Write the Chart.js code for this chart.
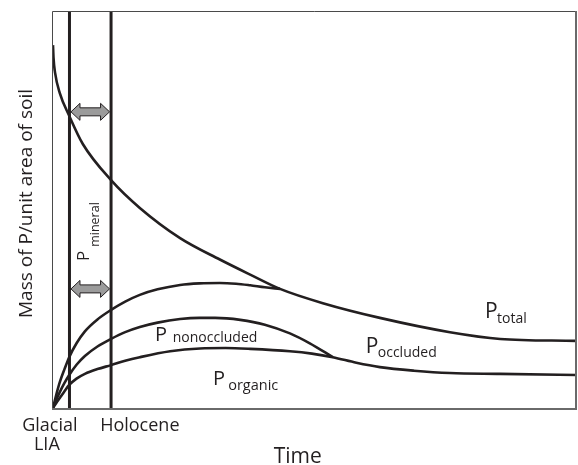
<!DOCTYPE html>
<html><head><meta charset="utf-8">
<script src="https://cdn.jsdelivr.net/npm/chart.js@4"></script>
<style>html,body{margin:0;padding:0;background:#fff}canvas{display:block}</style>
</head><body>
<canvas id="c" width="578" height="465"></canvas>
<script>
// ---- data (time and mass in arbitrary units, 0-100) ----
const timeTotal = [0, 0.1, 0.4, 1.3, 3.1, 5.7, 11.1, 16.6, 24.3, 31.9, 37.7, 43.4, 51.6, 62.5, 75.9, 85.5, 100];
const massTotal = [91.4, 88.2, 84.4, 79.3, 73.6, 66.5, 57.4, 50.4, 42.8, 37.4, 33.6, 30.0, 26.4, 22.7, 19.1, 17.4, 16.9];

const timeOccluded = [0, 0.6, 1.3, 2.2, 3.1, 4.5, 6.1, 8.5, 11.1, 13.8, 16.6, 20.0, 24.3, 28.0, 31.9, 35.0, 37.7, 40.5, 43.4];
const massOccluded = [0, 3.2, 6.5, 9.8, 12.8, 16.3, 19.3, 22.3, 24.7, 26.8, 28.5, 29.9, 31.0, 31.4, 31.5, 31.3, 30.9, 30.4, 30.0];

const timeNonoccluded = [0, 0.6, 1.3, 2.2, 3.1, 4.5, 6.1, 8.5, 11.1, 13.8, 16.6, 20.0, 24.3, 28.0, 31.0, 35.8, 40.5, 45.3, 49.1, 53.5];
const massNonoccluded = [0, 2.0, 4.0, 6.3, 8.3, 10.9, 13.1, 15.5, 17.4, 19.1, 20.4, 21.5, 22.4, 22.7, 22.7, 22.2, 21.0, 18.8, 16.3, 12.8];

const timeOrganic = [0, 0.6, 1.3, 2.2, 3.1, 4.5, 6.1, 8.5, 11.1, 13.8, 16.6, 22.4, 28.1, 33.0, 37.7, 45.3, 49.5, 53.5, 58.0, 62.5, 69.0, 75.9, 85.5, 100];
const massOrganic = [0, 1.2, 2.5, 4.2, 5.8, 7.4, 8.6, 9.8, 10.8, 11.9, 12.8, 14.3, 15.0, 15.1, 14.9, 14.3, 13.7, 12.8, 11.4, 10.3, 9.4, 8.8, 8.6, 8.3];

const periodBoundaries = [3.15, 11.1];     // LIA / Holocene lines
const arrowLevels = [74.6, 30.0];          // mineral-P double arrows
const xTickLabels = [['Glacial', 'LIA'], ['Holocene']];
const xTickValues = [-0.6, 16.6];
const xTitle = 'Time';
const yTitle = 'Mass of P/unit area of soil';

const ink = '#231f20';
const FONT = '"Open Sans", "Noto Sans", sans-serif';

function pts(xs, ys) { return xs.map((v, i) => ({ x: v, y: ys[i] })); }
function curve(xs, ys) {
  return { data: pts(xs, ys), borderColor: ink, borderWidth: 2.6, pointRadius: 0,
           cubicInterpolationMode: 'monotone', fill: false };
}
function vline(v) {
  return { data: [{ x: v, y: 0 }, { x: v, y: 100 }], borderColor: ink, borderWidth: 3,
           pointRadius: 0, tension: 0, fill: false };
}

// in-plot labels: [text, time, mass, size]
const plotLabels = [
  ['P', 82.6, 22.7, 21], ['total', 84.9, 21.4, 14],
  ['P', 59.8, 13.9, 21], ['occluded', 62.1, 12.8, 14],
  ['P', 19.5, 16.9, 20], ['nonoccluded', 22.9, 16.6, 14],
  ['P', 30.6, 5.8, 20], ['organic', 33.5, 4.5, 14.5]
];
// rotated label: [text, time, mass, size]
const mineralLabels = [['P', 6.88, 37.0, 17], ['mineral', 8.80, 40.6, 12.5]];

function drawArrow(ctx, x1, x2, cy) {
  const hl = 9, hh = 8.5, sh = 4;
  ctx.beginPath();
  ctx.moveTo(x1, cy);
  ctx.lineTo(x1 + hl, cy - hh); ctx.lineTo(x1 + hl, cy - sh);
  ctx.lineTo(x2 - hl, cy - sh); ctx.lineTo(x2 - hl, cy - hh);
  ctx.lineTo(x2, cy);
  ctx.lineTo(x2 - hl, cy + hh); ctx.lineTo(x2 - hl, cy + sh);
  ctx.lineTo(x1 + hl, cy + sh); ctx.lineTo(x1 + hl, cy + hh);
  ctx.closePath();
  ctx.fillStyle = '#9b9b9b'; ctx.fill();
  ctx.strokeStyle = ink; ctx.lineWidth = 1; ctx.stroke();
}

const deco = {
  id: 'deco',
  afterDatasetsDraw(chart) {
    const { ctx, chartArea: a, scales: { x, y } } = chart;
    ctx.save();
    // frame
    ctx.strokeStyle = '#4a4a4a'; ctx.lineWidth = 1;
    ctx.beginPath();
    ctx.moveTo(a.left - 0.5, a.bottom); ctx.lineTo(a.left - 0.5, a.top + 0.5); ctx.lineTo(a.right, a.top + 0.5);
    ctx.stroke();
    ctx.strokeStyle = '#6a6a6a'; ctx.lineWidth = 2;
    ctx.beginPath();
    ctx.moveTo(a.left - 1, a.bottom + 1); ctx.lineTo(a.right, a.bottom + 1); ctx.lineTo(a.right, a.top);
    ctx.stroke();
    // arrows
    const xa = x.getPixelForValue(periodBoundaries[0]) + 1.5;
    const xb = x.getPixelForValue(periodBoundaries[1]) - 1.5;
    arrowLevels.forEach(v => drawArrow(ctx, xa, xb, y.getPixelForValue(v)));
    // labels
    ctx.fillStyle = ink; ctx.textAlign = 'left'; ctx.textBaseline = 'alphabetic';
    plotLabels.forEach(([t, tx, ty, s]) => {
      ctx.font = s + 'px ' + FONT;
      ctx.fillText(t, x.getPixelForValue(tx), y.getPixelForValue(ty));
    });
    mineralLabels.forEach(([t, tx, ty, s]) => {
      ctx.save();
      ctx.translate(x.getPixelForValue(tx), y.getPixelForValue(ty));
      ctx.rotate(-Math.PI / 2);
      ctx.font = s + 'px ' + FONT;
      ctx.fillText(t, 0, 0);
      ctx.restore();
    });
    // x tick labels
    ctx.textAlign = 'center';
    ctx.font = '18px ' + FONT;
    xTickLabels.forEach((lines, i) => {
      const px = x.getPixelForValue(xTickValues[i]);
      lines.forEach((ln, j) => ctx.fillText(ln, j === 1 ? px - 3 : px, a.bottom + 23 + j * 19));
    });
    // axis titles
    ctx.font = '21px ' + FONT;
    ctx.fillText(xTitle, x.getPixelForValue(46.8), a.bottom + 55);
    ctx.save();
    ctx.translate(32, (a.top + a.bottom) / 2 - 6);
    ctx.rotate(-Math.PI / 2);
    ctx.font = '19px ' + FONT;
    ctx.fillText(yTitle, 0, 0);
    ctx.restore();
    ctx.restore();
  }
};

function build() {
  new Chart(document.getElementById('c'), {
    type: 'line',
    data: {
      datasets: [
        curve(timeTotal, massTotal),
        curve(timeOccluded, massOccluded),
        curve(timeNonoccluded, massNonoccluded),
        curve(timeOrganic, massOrganic),
        vline(periodBoundaries[0]),
        vline(periodBoundaries[1])
      ]
    },
    options: {
      responsive: false,
      animation: false,
      devicePixelRatio: 1,
      layout: { padding: { left: 53, right: 2, top: 11, bottom: 57 } },
      plugins: { legend: { display: false }, tooltip: { enabled: false } },
      scales: {
        x: { type: 'linear', min: 0, max: 100, display: false },
        y: { type: 'linear', min: 0, max: 100, display: false }
      }
    },
    plugins: [deco]
  });
}
if (document.fonts && document.fonts.load) {
  Promise.all([document.fonts.load('18px "Open Sans"')]).then(build, build);
} else build();
</script>
</body></html>
